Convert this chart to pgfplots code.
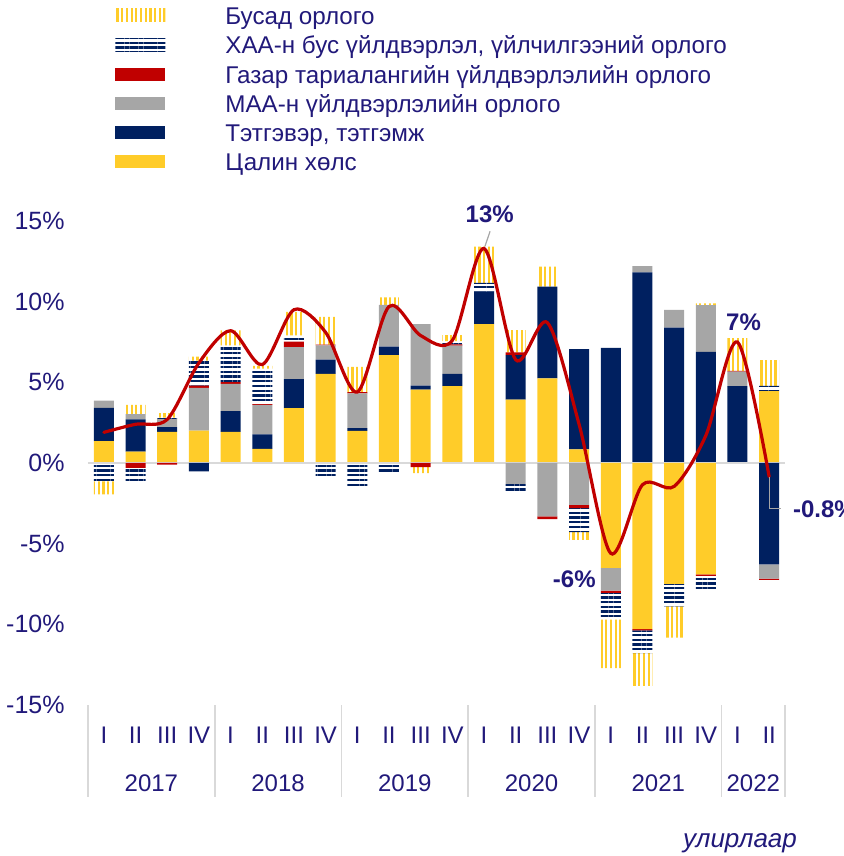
\documentclass[border=0pt]{standalone}
\usepackage{fontspec}
\setmainfont{Liberation Sans}
\usepackage{pgfplots}
\pgfplotsset{compat=1.18}
\usepackage{pgfplotstable}
\usetikzlibrary{patterns.meta}

\definecolor{cW}{RGB}{255,204,41}
\definecolor{cP}{RGB}{0,32,96}
\definecolor{cL}{RGB}{166,166,166}
\definecolor{cC}{RGB}{192,0,0}
\definecolor{cLine}{RGB}{192,0,0}
\definecolor{txt}{RGB}{33,25,122}
\definecolor{axgray}{RGB}{217,217,217}

% W = wage, P = pension, L = livestock, C = crop, N = non-agri, O = other, T = total
\pgfplotstableread{
x W P L C N O T
0 1.35 2.07 0.45 0 -1.14 -0.80 1.9
1 0.70 2.00 0.33 -0.30 -0.83 0.58 2.4
2 1.93 0.29 0.50 -0.10 0.10 0.27 2.7
3 2.00 -0.52 2.65 0.15 1.55 0.25 6.2
4 1.93 1.28 1.70 0.10 2.28 0.93 8.2
5 0.87 0.91 1.82 0.05 2.20 0.17 6.1
6 3.40 1.80 1.99 0.33 0.39 1.45 9.5
7 5.53 0.87 0.89 0.05 -0.89 1.72 8.1
8 1.99 0.17 2.15 0.08 -1.50 1.57 4.4
9 6.69 0.52 2.59 0 -0.66 0.46 9.7
10 4.55 0.25 3.81 -0.25 0 -0.37 7.9
11 4.76 0.77 1.74 0.08 0.20 0.37 7.6
12 8.61 2.01 0 0 0.55 2.24 13.3
13 3.93 2.75 -1.30 0.17 -0.45 1.39 6.4
14 5.24 5.69 -3.31 -0.17 -0.10 1.24 8.7
15 0.85 6.21 -2.59 -0.21 -1.49 -0.48 2.4
16 -6.50 7.14 -1.41 -0.14 -1.66 -3.00 -5.6
17 -10.29 11.82 0.39 -0.08 -1.41 -2.03 -1.35
18 -7.50 8.39 1.10 0 -1.39 -1.93 -1.45
19 -6.91 6.89 2.90 -0.08 -0.95 0.10 1.7
20 0.05 4.72 0.89 0.05 0 2.03 7.5
21 4.45 -6.29 -0.87 -0.08 0.33 1.59 -0.85
}\data

\pgfplotsset{
  base/.style={
    at={(0,0)}, anchor=south west, scale only axis,
    width=348.5pt, height=242pt,
    xmin=-0.5, xmax=21.5, ymin=-15, ymax=15,
    enlargelimits=false, clip=false,
  },
  sW/.style={fill=cW, draw=none},
  sP/.style={fill=cP, draw=none},
  sL/.style={fill=cL, draw=none},
  sC/.style={fill=cC, draw=none},
  sN/.style={draw=none, pattern={Lines[angle=0,distance=2.35pt,line width=1.15pt]}, pattern color=cP},
  sO/.style={draw=none, pattern={Lines[angle=90,distance=2.35pt,line width=1.1pt]}, pattern color=cW},
}

\begin{document}
\begin{tikzpicture}
\useasboundingbox (-44pt,-75.5pt) rectangle (377.5pt,352.5pt);

% positive parts
\begin{axis}[base,
  ybar stacked, bar width=10pt,
  axis line style={draw=none},
  major tick length=0pt,
  xtick={0,...,21},
  xticklabels={I,II,III,IV,I,II,III,IV,I,II,III,IV,I,II,III,IV,I,II,III,IV,I,II},
  ytick={-15,-10,-5,0,5,10,15},
  yticklabel={\pgfmathprintnumber{\tick}\%},
  /pgf/number format/assume math mode=true,
  tick label style={font=\fontsize{12}{14}\selectfont, text=txt},
  yticklabel style={font=\fontsize{12.5}{14}\selectfont},
  xticklabel style={anchor=center, yshift=-15pt},
  yticklabel style={anchor=east, inner sep=0pt, xshift=-11.5pt},
  reverse legend,
  legend cell align=left,
  legend image code/.code={\path[#1] (0pt,-1.25pt) rectangle (25pt,5.25pt); \path[draw=none,fill=none] (0pt,0pt) -- (55pt,0pt);},
  legend style={at={(axis description cs:0.0387,1.4421)}, anchor=north west,
    draw=none, fill=none, inner sep=0pt, row sep=2.65pt,
    font=\fontsize{12.1}{14}\selectfont, text=txt,
    nodes={inner sep=0pt, text height=8.5pt, text depth=3.5pt}},
]
\draw[axgray, line width=1pt] (axis cs:-0.5,0) -- (axis cs:21.5,0);
\addplot[sW] table[x=x, y expr={max(\thisrow{W},0)}] {\data};
\addlegendentry{Цалин хөлс}
\addplot[sP] table[x=x, y expr={max(\thisrow{P},0)}] {\data};
\addlegendentry{Тэтгэвэр, тэтгэмж}
\addplot[sL] table[x=x, y expr={max(\thisrow{L},0)}] {\data};
\addlegendentry{МАА-н үйлдвэрлэлийн орлого}
\addplot[sC] table[x=x, y expr={max(\thisrow{C},0)}] {\data};
\addlegendentry{Газар тариалангийн үйлдвэрлэлийн орлого}
\addplot[sN] table[x=x, y expr={max(\thisrow{N},0)}] {\data};
\addlegendentry{ХАА-н бус үйлдвэрлэл, үйлчилгээний орлого}
\addplot[sO] table[x=x, y expr={max(\thisrow{O},0)}] {\data};
\addlegendentry{Бусад орлого}
\end{axis}

% negative parts
\begin{axis}[base, hide axis, ybar stacked, bar width=10pt]
\addplot[sW] table[x=x, y expr={min(\thisrow{W},0)}] {\data};
\addplot[sP] table[x=x, y expr={min(\thisrow{P},0)}] {\data};
\addplot[sL] table[x=x, y expr={min(\thisrow{L},0)}] {\data};
\addplot[sC] table[x=x, y expr={min(\thisrow{C},0)}] {\data};
\addplot[sN] table[x=x, y expr={min(\thisrow{N},0)}] {\data};
\addplot[sO] table[x=x, y expr={min(\thisrow{O},0)}] {\data};
\end{axis}

% total line, annotations, year labels
\begin{axis}[base, hide axis]
\addplot[cLine, line width=1.6pt, smooth, tension=0.5, line cap=round] table[x=x, y=T] {\data};
\pgfplotsinvokeforeach{-0.5,3.5,7.5,11.5,15.5,19.5,21.5}{
  \draw[axgray, line width=0.8pt] (axis cs:#1,-15) -- ++(0pt,-46pt);
}
\node[text=txt, font=\fontsize{12}{14}\selectfont] at ([yshift=-39pt]axis cs:1.5,-15) {2017};
\node[text=txt, font=\fontsize{12}{14}\selectfont] at ([yshift=-39pt]axis cs:5.5,-15) {2018};
\node[text=txt, font=\fontsize{12}{14}\selectfont] at ([yshift=-39pt]axis cs:9.5,-15) {2019};
\node[text=txt, font=\fontsize{12}{14}\selectfont] at ([yshift=-39pt]axis cs:13.5,-15) {2020};
\node[text=txt, font=\fontsize{12}{14}\selectfont] at ([yshift=-39pt]axis cs:17.5,-15) {2021};
\node[text=txt, font=\fontsize{12}{14}\selectfont] at ([yshift=-39pt]axis cs:20.5,-15) {2022};
\node[text=txt, font=\fontsize{13}{15}\selectfont\itshape] at ([yshift=-69pt]axis cs:20.08,-15) {улирлаар};
\draw[gray!70, line width=0.6pt] (axis cs:12.19,14.36) -- (axis cs:12.03,13.43);
\node[text=txt, font=\fontsize{12}{14}\selectfont\bfseries] at (axis cs:12.18,15.4) {13\%};
\node[text=txt, font=\fontsize{12}{14}\selectfont\bfseries] at (axis cs:20.19,8.74) {7\%};
\node[text=txt, font=\fontsize{12}{14}\selectfont\bfseries] at (axis cs:14.85,-7.22) {-6\%};
\draw[gray!70, line width=0.6pt] (axis cs:21.0,-0.85) -- (axis cs:21.0,-2.81) -- (axis cs:21.37,-2.81);
\node[text=txt, font=\fontsize{12}{14}\selectfont\bfseries, anchor=west, inner sep=0pt] at (axis cs:21.74,-2.88) {-0.8\%};
\end{axis}
\end{tikzpicture}
\end{document}
